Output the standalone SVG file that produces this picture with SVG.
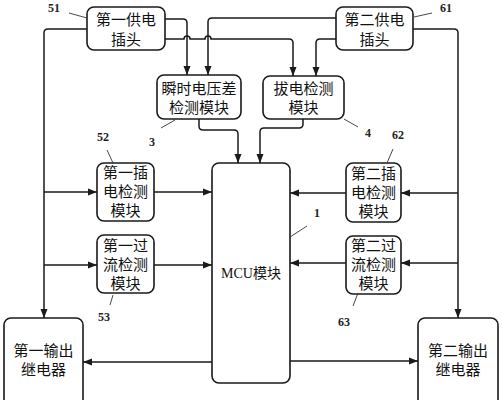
<svg xmlns="http://www.w3.org/2000/svg" width="502" height="400" viewBox="0 0 502 400">
<style>
.box{fill:#fff;stroke:#1a1a1a;stroke-width:1.6}
.t{font-family:"Noto Sans CJK SC","Liberation Serif",serif;font-size:15px;fill:#111;text-anchor:middle}
.lbl{font-family:"Liberation Serif",serif;font-size:12px;font-weight:bold;fill:#222;text-anchor:middle}
.ld{stroke:#333;stroke-width:0.9;fill:none}
.c{fill:none;stroke:#1a1a1a;stroke-width:1.5}
.a{marker-end:url(#ah)}
</style>
<defs>
<marker id="ah" markerUnits="userSpaceOnUse" markerWidth="10" markerHeight="8" refX="9" refY="4" orient="auto">
<path d="M0,0.5 L9,4 L0,7.5 Z" fill="#1a1a1a"/>
</marker>
</defs>
<g id="connectors">
<path class="c a" d="M87,29 H48 Q44,29 44,33 V318"/>
<path class="c a" d="M44,192 H97"/>
<path class="c a" d="M44,265 H97"/>
<path class="c a" d="M165,19 H183 Q187,19 187,23 V75"/>
<path class="c a" d="M336,18 H212 Q208,18 208,22 V75"/>
<path class="c a" d="M165,39 H184 a3,3 0 0 1 6,0 H205 a3,3 0 0 1 6,0 H289 Q293,39 293,43 V76"/>
<path class="c a" d="M336,39 H320 Q316,39 316,43 V76"/>
<path class="c a" d="M413,29 H454 Q458,29 458,33 V318"/>
<path class="c a" d="M458,193 H401"/>
<path class="c a" d="M458,263 H401"/>
<path class="c a" d="M199,119 V126 Q199,130 203,130 H234 Q238,130 238,134 V163"/>
<path class="c a" d="M303,119 V124 Q303,128 299,128 H264 Q260,128 260,132 V163"/>
<path class="c a" d="M154,192 H212"/>
<path class="c a" d="M154,265 H212"/>
<path class="c a" d="M346,193 H290"/>
<path class="c a" d="M346,263 H290"/>
<path class="c a" d="M212,362 H83"/>
<path class="c a" d="M290,361 H418"/>
</g>
<g id="n51">
<rect class="box" x="87" y="7" width="78" height="43" rx="7"/>
<text class="t" x="126" y="24.5">第一供电</text>
<text class="t" x="126" y="44.5">插头</text>
<text class="lbl" x="54" y="12">51</text>
<path class="ld" d="M69,13 L87,18"/>
</g>
<g id="n61">
<rect class="box" x="336" y="7" width="77" height="43" rx="7"/>
<text class="t" x="374.5" y="24.5">第二供电</text>
<text class="t" x="374.5" y="44.5">插头</text>
<text class="lbl" x="446" y="12">61</text>
<path class="ld" d="M414,17 L432,13"/>
</g>
<g id="n3">
<rect class="box" x="157" y="75" width="84" height="44" rx="7"/>
<text class="t" x="199" y="93.5">瞬时电压差</text>
<text class="t" x="199" y="112.5">检测模块</text>
<text class="lbl" x="152" y="146">3</text>
<path class="ld" d="M161,128 L175,120"/>
</g>
<g id="n4">
<rect class="box" x="263" y="76" width="81" height="43" rx="7"/>
<text class="t" x="303.5" y="93.5">拔电检测</text>
<text class="t" x="303.5" y="112.5">模块</text>
<text class="lbl" x="368" y="137">4</text>
<path class="ld" d="M344,119 L358,127"/>
</g>
<g id="n1">
<rect class="box" x="212" y="163" width="78" height="220" rx="7"/>
<text class="t" x="251" y="278" style="font-family:'Liberation Serif','Noto Sans CJK SC',serif;font-size:14px">MCU模块</text>
<text class="lbl" x="317" y="217">1</text>
<path class="ld" d="M290,237 L307,226"/>
</g>
<g id="n52">
<rect class="box" x="97" y="163" width="57" height="58" rx="7"/>
<text class="t" x="125.5" y="177.5">第一插</text>
<text class="t" x="125.5" y="196.5">电检测</text>
<text class="t" x="125.5" y="215.5">模块</text>
<text class="lbl" x="103" y="141">52</text>
<path class="ld" d="M107,150 L113,163"/>
</g>
<g id="n53">
<rect class="box" x="97" y="235" width="57" height="58" rx="7"/>
<text class="t" x="125.5" y="250.5">第一过</text>
<text class="t" x="125.5" y="269.5">流检测</text>
<text class="t" x="125.5" y="288.5">模块</text>
<text class="lbl" x="104" y="321">53</text>
<path class="ld" d="M113,295 L110,305"/>
</g>
<g id="n62">
<rect class="box" x="346" y="163" width="55" height="59" rx="7"/>
<text class="t" x="373.5" y="178.5">第二插</text>
<text class="t" x="373.5" y="197.5">电检测</text>
<text class="t" x="373.5" y="216.5">模块</text>
<text class="lbl" x="398" y="139">62</text>
<path class="ld" d="M393,149 L387,163"/>
</g>
<g id="n63">
<rect class="box" x="346" y="236" width="55" height="58" rx="7"/>
<text class="t" x="373.5" y="250.5">第二过</text>
<text class="t" x="373.5" y="269.5">流检测</text>
<text class="t" x="373.5" y="288.5">模块</text>
<text class="lbl" x="344" y="326">63</text>
<path class="ld" d="M358,293 L353,306"/>
</g>
<g id="nout1">
<rect class="box" x="4" y="318" width="79" height="90" rx="7"/>
<text class="t" x="43.5" y="356">第一输出</text>
<text class="t" x="43.5" y="375">继电器</text>
</g>
<g id="nout2">
<rect class="box" x="418" y="318" width="80" height="90" rx="7"/>
<text class="t" x="458" y="356">第二输出</text>
<text class="t" x="458" y="375">继电器</text>
</g>
</svg>
